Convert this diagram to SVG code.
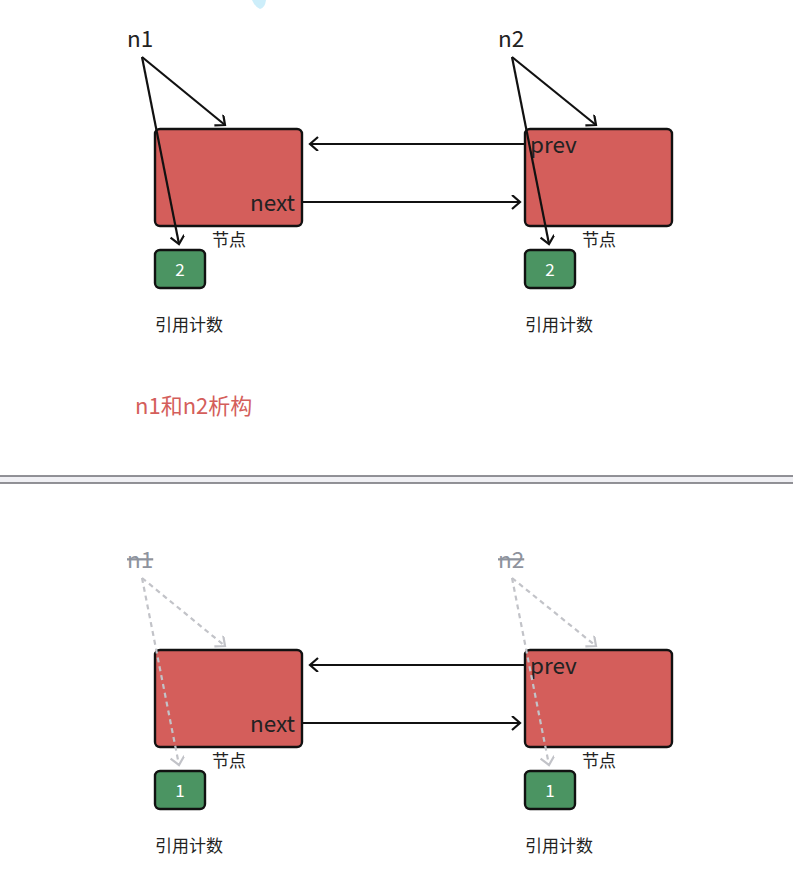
<svg xmlns="http://www.w3.org/2000/svg" width="793" height="871" viewBox="0 0 793 871">
<style>
.node{fill:#d45e5b;stroke:#111;stroke-width:2.4}
.cnt{fill:#4b9462;stroke:#111;stroke-width:2.4}
.t{font-family:"Noto Sans CJK SC","Noto Sans",sans-serif;fill:#222}
.big{font-size:22.5px}
.sm{font-size:17px}
.num{font-size:17px;fill:#fff;text-anchor:middle}
.ln{fill:none;stroke:#111;stroke-width:2.2;marker-end:url(#ah)}
.dl{fill:none;stroke:#c2c3c8;stroke-width:2.2;stroke-dasharray:5 4;marker-end:url(#ahg)}
.gone{fill:#8e939d}
</style>
<defs>
<marker id="ah" markerUnits="userSpaceOnUse" markerWidth="16" markerHeight="16" refX="10" refY="7" orient="auto">
<path d="M2,0 L10,7 L2,14" fill="none" stroke="#111" stroke-width="2.2"/>
</marker>
<marker id="ahg" markerUnits="userSpaceOnUse" markerWidth="16" markerHeight="16" refX="10" refY="7" orient="auto">
<path d="M2,0 L10,7 L2,14" fill="none" stroke="#c2c3c8" stroke-width="2.2"/>
</marker>
</defs>
<rect width="793" height="871" fill="#fff"/>
<path d="M252,0 L266,0 Q265,8 260,9 Q255,7 252,0 Z" fill="#cdeefa"/>

<g id="separator">
<rect x="-1" y="476" width="795" height="7" fill="#f0f0f4" stroke="#6f6f75" stroke-width="1.5"/>
</g>

<!-- top half -->
<g id="node1">
<rect class="node" x="155" y="129" width="147" height="97" rx="5"/>
<text class="t big" x="295" y="211" text-anchor="end">next</text>
<text class="t sm" x="212" y="246">节点</text>
</g>
<g id="count1">
<rect class="cnt" x="155" y="250" width="50" height="38" rx="5"/>
<text class="t num" x="180" y="276">2</text>
<text class="t sm" x="155" y="331">引用计数</text>
</g>
<g id="node2">
<rect class="node" x="525" y="129" width="147" height="97" rx="5"/>
<text class="t big" x="530" y="153">prev</text>
<text class="t sm" x="582" y="246">节点</text>
</g>
<g id="count2">
<rect class="cnt" x="525" y="250" width="50" height="38" rx="5"/>
<text class="t num" x="550" y="276">2</text>
<text class="t sm" x="525" y="331">引用计数</text>
</g>
<g id="n1"><text class="t big" x="127" y="47">n1</text></g>
<g id="n2"><text class="t big" x="498" y="47">n2</text></g>
<g id="caption"><text class="t" x="135" y="414" font-size="22" style="fill:#d45e5b">n1和n2析构</text></g>

<g id="connectors-top">
<line class="ln" x1="142" y1="57" x2="225" y2="125"/>
<line class="ln" x1="142" y1="57" x2="179" y2="244"/>
<line class="ln" x1="512" y1="57" x2="596" y2="125"/>
<line class="ln" x1="512" y1="57" x2="549" y2="244"/>
<line class="ln" x1="525" y1="144" x2="310" y2="144"/>
<line class="ln" x1="302" y1="202" x2="520" y2="202"/>
</g>

<!-- bottom half -->
<g id="node1b">
<rect class="node" x="155" y="650" width="147" height="97" rx="5"/>
<text class="t big" x="295" y="732" text-anchor="end">next</text>
<text class="t sm" x="212" y="767">节点</text>
</g>
<g id="count1b">
<rect class="cnt" x="155" y="771" width="50" height="38" rx="5"/>
<text class="t num" x="180" y="797">1</text>
<text class="t sm" x="155" y="852">引用计数</text>
</g>
<g id="node2b">
<rect class="node" x="525" y="650" width="147" height="97" rx="5"/>
<text class="t big" x="530" y="674">prev</text>
<text class="t sm" x="582" y="767">节点</text>
</g>
<g id="count2b">
<rect class="cnt" x="525" y="771" width="50" height="38" rx="5"/>
<text class="t num" x="550" y="797">1</text>
<text class="t sm" x="525" y="852">引用计数</text>
</g>
<g id="n1b"><text class="t big gone" x="127" y="568" text-decoration="line-through">n1</text></g>
<g id="n2b"><text class="t big gone" x="498" y="568" text-decoration="line-through">n2</text></g>

<g id="connectors-bottom">
<line class="dl" x1="142" y1="578" x2="225" y2="646"/>
<line class="dl" x1="142" y1="578" x2="179" y2="765"/>
<line class="dl" x1="512" y1="578" x2="596" y2="646"/>
<line class="dl" x1="512" y1="578" x2="549" y2="765"/>
<line class="ln" x1="525" y1="665" x2="310" y2="665"/>
<line class="ln" x1="302" y1="723" x2="520" y2="723"/>
</g>
</svg>
